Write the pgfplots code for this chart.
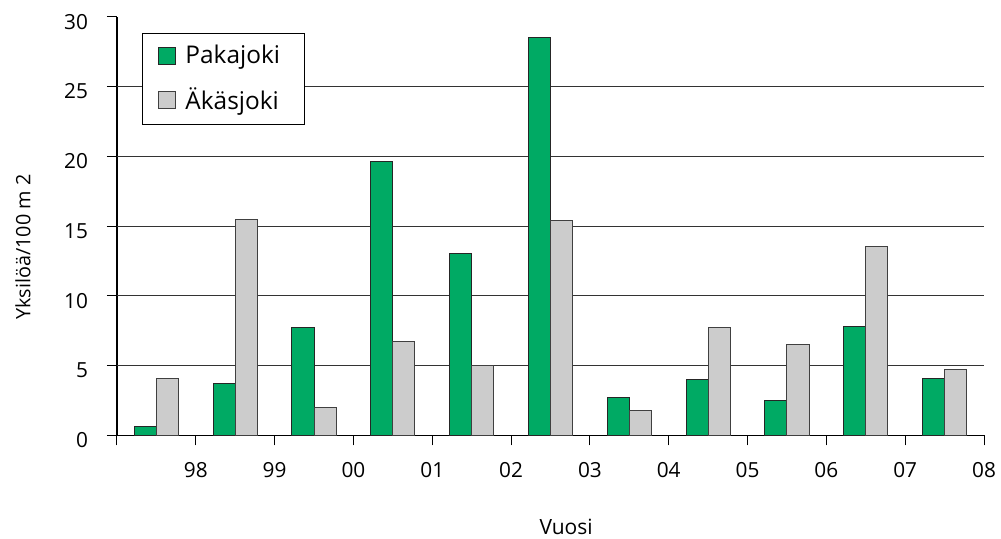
\documentclass[border=0pt]{standalone}
\usepackage{fontspec}
\setmainfont{Open Sans}
\usepackage{pgfplots}
\usepackage{pgfplotstable}
\usetikzlibrary{calc}
\pgfplotsset{compat=1.18}

\definecolor{pakagreen}{RGB}{0,170,100}
\definecolor{akasgray}{RGB}{204,204,204}

% Yksilötiheys (yksilöä / 100 m2) vuosittain
\pgfplotstableread{
x     paka  akas
0.5   0.6   4.1
1.5   3.7   15.5
2.5   7.7   2.0
3.5   19.6  6.7
4.5   13.0  5.0
5.5   28.5  15.4
6.5   2.7   1.8
7.5   4.0   7.7
8.5   2.5   6.5
9.5   7.8   13.5
10.5  4.1   4.7
}\datatable

\begin{document}
\begin{tikzpicture}
\begin{axis}[
  name=ax,
  scale only axis,
  width=433.5pt, height=209.3pt,
  xmin=0, xmax=11, ymin=0, ymax=30,
  axis x line*=bottom, axis y line*=left,
  axis line style={black, line width=0.6pt},
  xtick={0,...,11},
  xticklabels={,98,99,00,01,02,03,04,05,06,07,08},
  ytick={0,5,...,30},
  extra y ticks={5,10,15,20,25},
  extra y tick labels={},
  extra y tick style={ymajorgrids=true, major tick length=0pt},
  major grid style={black!80, line width=0.5pt},
  tick align=outside,
  major tick length=5pt,
  tick style={black, line width=0.5pt},
  /pgf/number format/assume math mode=true,
  tick label style={font=\fontsize{10.4}{12}\selectfont},
  xticklabel style={yshift=-5pt},
  yticklabel style={xshift=-6pt, yshift=-2.5pt},
  xlabel={Vuosi},
  ylabel={Yksilöä/100 m 2},
  xlabel style={font=\fontsize{10.5}{12}\selectfont, at={(axis description cs:0.518,-0.2198)}, anchor=center},
  ylabel style={font=\fontsize{9.9}{12}\selectfont, at={(axis description cs:-0.1084,0.45)}, anchor=center},
  legend style={
    at={(axis description cs:0.0288,0.961)}, anchor=north west,
    draw=black, line width=0.5pt, fill=white,
    font=\fontsize{12.2}{14}\selectfont,
    inner xsep=8pt, inner ysep=3.8pt, row sep=6.5pt, column sep=2.5pt,
  },
  legend cell align=left,
  legend image code/.code={\draw[#1, line width=0.5pt] (0pt,-4.25pt) rectangle (8.5pt,4.25pt);},
]
\addplot[ybar, bar width=0.28, bar shift=-0.14, fill=pakagreen, draw=black!85, line width=0.5pt]
  table[x=x, y=paka] {\datatable};
\addlegendentry{\makebox[49.5pt][l]{Pakajoki}}
\addplot[ybar, bar width=0.28, bar shift=0.14, fill=akasgray, draw=black!75, line width=0.5pt]
  table[x=x, y=akas] {\datatable};
\addlegendentry{\makebox[49.5pt][l]{Äkäsjoki}}
\end{axis}
\pgfresetboundingbox
\useasboundingbox ($(ax.south west)+(-58.5pt,-51.35pt)$) rectangle ($(ax.south west)+(442pt,217.65pt)$);
\end{tikzpicture}
\end{document}
